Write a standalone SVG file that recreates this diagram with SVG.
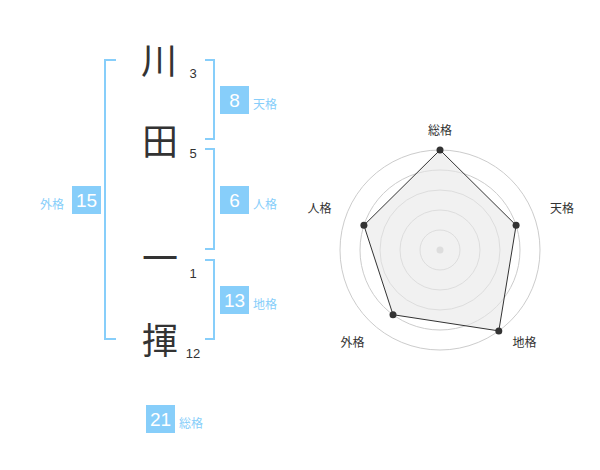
<svg xmlns="http://www.w3.org/2000/svg" width="600" height="470" viewBox="0 0 600 470">
<style>
.ch{font-family:"Noto Sans CJK JP","Noto Sans CJK SC",sans-serif;font-size:36px;fill:#333;text-anchor:middle}
.st{font-family:"Liberation Sans",Arial,sans-serif;font-size:13px;fill:#333;text-anchor:middle}
.br{fill:none;stroke:#87cefa;stroke-width:2}
.box{fill:#87cefa}
.bn{font-family:"Liberation Sans",Arial,sans-serif;font-size:19px;fill:#fff;text-anchor:middle}
.lb{font-family:"Noto Sans CJK JP","Noto Sans CJK SC",sans-serif;font-size:12px;fill:#87cefa}
.rl{font-family:"Noto Sans CJK JP","Noto Sans CJK SC",sans-serif;font-size:12px;fill:#333;text-anchor:middle}
.ring{fill:none;stroke:#ccc;stroke-width:1}
.dot{fill:#333}
</style>
<rect width="600" height="470" fill="#fff"/>
<g id="chars">
<text class="ch" x="159" y="74">川</text>
<text class="ch" x="160" y="155">田</text>
<text class="ch" x="160" y="272">一</text>
<text class="ch" x="160" y="354">揮</text>
<text class="st" x="193" y="78">3</text>
<text class="st" x="193" y="158">5</text>
<text class="st" x="193" y="278">1</text>
<text class="st" x="193" y="358">12</text>
</g>
<g id="connectors">
<path class="br" d="M116,60 H105 V339 H116"/>
<path class="br" d="M205,60 H214 V139 H205"/>
<path class="br" d="M205,149 H214 V249 H205"/>
<path class="br" d="M205,260 H214 V339 H205"/>
</g>
<g id="tenkaku">
<rect class="box" x="220" y="86" width="29" height="28"/>
<text class="bn" x="234.5" y="107">8</text>
<text class="lb" x="253" y="109">天格</text>
</g>
<g id="jinkaku">
<rect class="box" x="220" y="186" width="29" height="28"/>
<text class="bn" x="234.5" y="207">6</text>
<text class="lb" x="253" y="209">人格</text>
</g>
<g id="chikaku">
<rect class="box" x="220" y="286" width="29" height="28"/>
<text class="bn" x="234.5" y="307">13</text>
<text class="lb" x="253" y="309">地格</text>
</g>
<g id="gaikaku">
<rect class="box" x="72" y="186" width="29" height="28"/>
<text class="bn" x="86.5" y="207">15</text>
<text class="lb" x="40" y="209">外格</text>
</g>
<g id="soukaku">
<rect class="box" x="146" y="405" width="29" height="28"/>
<text class="bn" x="160.5" y="426">21</text>
<text class="lb" x="179" y="428">総格</text>
</g>
<g id="radar">
<circle class="ring" cx="440" cy="250" r="20"/>
<circle class="ring" cx="440" cy="250" r="40"/>
<circle class="ring" cx="440" cy="250" r="60"/>
<circle class="ring" cx="440" cy="250" r="80"/>
<circle class="ring" cx="440" cy="250" r="100"/>
<circle cx="440" cy="250" r="3.5" fill="#ccc"/>
<polygon points="440,150 516.1,225.3 498.8,330.9 393,314.7 363.9,225.3" fill="#e8e8e8" fill-opacity="0.6" stroke="#333" stroke-width="1"/>
<circle class="dot" cx="440" cy="150" r="3.5"/>
<circle class="dot" cx="516.1" cy="225.3" r="3.5"/>
<circle class="dot" cx="498.8" cy="330.9" r="3.5"/>
<circle class="dot" cx="393" cy="314.7" r="3.5"/>
<circle class="dot" cx="363.9" cy="225.3" r="3.5"/>
<text class="rl" x="440" y="135">総格</text>
<text class="rl" x="562" y="213">天格</text>
<text class="rl" x="524.5" y="347">地格</text>
<text class="rl" x="352.5" y="347">外格</text>
<text class="rl" x="319.5" y="213">人格</text>
</g>
</svg>
